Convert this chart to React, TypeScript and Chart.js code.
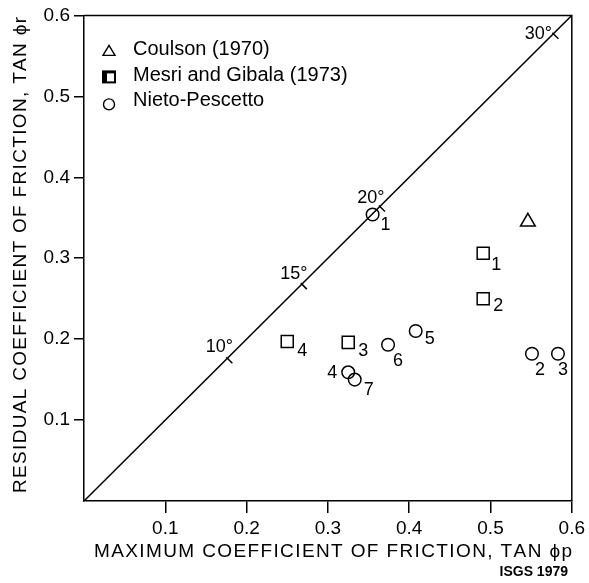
import React, { useEffect, useRef } from 'react';
import { Chart, registerables } from 'chart.js';

Chart.register(...registerables);

// ---- data ----
const coulsonX = [0.546];
const coulsonY = [0.345];

const mesriX = [0.491, 0.491, 0.325, 0.25];
const mesriY = [0.306, 0.25, 0.196, 0.197];
const mesriLabels = ['1', '2', '3', '4'];

const nietoX = [0.355, 0.551, 0.583, 0.325, 0.408, 0.374, 0.333];
const nietoY = [0.354, 0.182, 0.182, 0.159, 0.21, 0.193, 0.15];
const nietoLabels = ['1', '2', '3', '4', '5', '6', '7'];

const lineX = [0, 0.6];
const lineY = [0, 0.6];

const angleDegrees = [10, 15, 20, 30];
const angleLabels = ['10°', '15°', '20°', '30°'];

const xTickValues = [0.1, 0.2, 0.3, 0.4, 0.5, 0.6];
const xTickLabels = ['0.1', '0.2', '0.3', '0.4', '0.5', '0.6'];
const yTickValues = [0.1, 0.2, 0.3, 0.4, 0.5, 0.6];
const yTickLabels = ['0.1', '0.2', '0.3', '0.4', '0.5', '0.6'];

const legendLabels = ['Coulson (1970)', 'Mesri and Gibala (1973)', 'Nieto-Pescetto'];
const xTitle = 'MAXIMUM COEFFICIENT OF FRICTION, TAN ϕp';
const yTitle = 'RESIDUAL COEFFICIENT OF FRICTION, TAN ϕr';
const credit = 'ISGS 1979';

// ---- styles ----
const FONT = "'Liberation Sans', Arial, Helvetica, sans-serif";
const mesriOffsets = [[13, 12], [15, 7], [15, 9], [15, 9]];
const nietoOffsets = [[13, 11], [8, 16], [5, 16], [-16, 1], [14, 8], [10, 16], [14, 10]];
const angleOffsets = [[-8, -11], [-8, -10], [-9, -8], [-15, 0]];

function drawSpaced(ctx: CanvasRenderingContext2D, text: string, cx: number, cy: number, width: number) {
  const chars = Array.from(text);
  const widths = chars.map((c) => ctx.measureText(c).width);
  const natural = widths.reduce((a, b) => a + b, 0);
  const gap = chars.length > 1 ? (width - natural) / (chars.length - 1) : 0;
  let x = cx - width / 2;
  ctx.textAlign = 'left';
  ctx.textBaseline = 'middle';
  chars.forEach((c, i) => {
    ctx.fillText(c, x, cy);
    x += widths[i] + gap;
  });
}

const overlay = {
  id: 'overlay',
  afterDatasetsDraw(chart: any) {
    const { ctx, chartArea: a, scales } = chart;
    const xs = scales.x;
    const ys = scales.y;
    ctx.save();
    ctx.strokeStyle = '#000';
    ctx.fillStyle = '#000';
    ctx.lineWidth = 1.5;
    // top and right frame
    ctx.beginPath();
    ctx.moveTo(a.left, a.top);
    ctx.lineTo(a.right, a.top);
    ctx.lineTo(a.right, a.bottom);
    ctx.stroke();

    // angle marks on diagonal
    ctx.font = `18px ${FONT}`;
    ctx.textAlign = 'center';
    ctx.textBaseline = 'middle';
    angleDegrees.forEach((deg, i) => {
      const v = Math.tan((deg * Math.PI) / 180);
      const px = xs.getPixelForValue(v);
      const py = ys.getPixelForValue(v);
      ctx.beginPath();
      ctx.moveTo(px - 1, py - 1);
      ctx.lineTo(px + 5, py + 5);
      ctx.stroke();
      ctx.fillText(angleLabels[i], px + angleOffsets[i][0], py + angleOffsets[i][1]);
    });

    // point labels
    mesriLabels.forEach((t, i) => {
      ctx.fillText(t, xs.getPixelForValue(mesriX[i]) + mesriOffsets[i][0], ys.getPixelForValue(mesriY[i]) + mesriOffsets[i][1]);
    });
    nietoLabels.forEach((t, i) => {
      ctx.fillText(t, xs.getPixelForValue(nietoX[i]) + nietoOffsets[i][0], ys.getPixelForValue(nietoY[i]) + nietoOffsets[i][1]);
    });

    // legend
    const lx = a.left + 25;
    const ty = [a.top + 34, a.top + 60, a.top + 85];
    ctx.lineWidth = 1.4;
    // triangle
    ctx.beginPath();
    ctx.moveTo(lx, ty[0] - 4);
    ctx.lineTo(lx + 6, ty[0] + 6);
    ctx.lineTo(lx - 6, ty[0] + 6);
    ctx.closePath();
    ctx.stroke();
    // bold square
    ctx.fillRect(lx - 7, ty[1] - 5, 14, 13);
    ctx.fillStyle = '#fff';
    ctx.fillRect(lx - 2, ty[1] - 2, 7, 8);
    ctx.fillStyle = '#000';
    // circle
    ctx.beginPath();
    ctx.arc(lx, ty[2] + 4, 5.5, 0, Math.PI * 2);
    ctx.stroke();
    ctx.font = `20px ${FONT}`;
    ctx.textAlign = 'left';
    ctx.textBaseline = 'middle';
    legendLabels.forEach((t, i) => ctx.fillText(t, lx + 24, ty[i]));

    // axis titles
    ctx.font = `19px ${FONT}`;
    drawSpaced(ctx, xTitle, 333, 552, 478);
    ctx.save();
    ctx.translate(21, 255);
    ctx.rotate(-Math.PI / 2);
    drawSpaced(ctx, yTitle, 0, 0, 476);
    ctx.restore();

    ctx.font = `bold 14px ${FONT}`;
    ctx.textAlign = 'right';
    ctx.textBaseline = 'middle';
    ctx.fillText(credit, 568, 572);
    ctx.restore();
  },
};

export default function App() {
  const ref = useRef<HTMLCanvasElement | null>(null);

  useEffect(() => {
    if (!ref.current) return;
    const tickFont = { family: FONT, size: 19 };
    const chart = new Chart(ref.current, {
      type: 'scatter',
      data: {
        datasets: [
          {
            label: 'diagonal',
            data: lineX.map((v, i) => ({ x: v, y: lineY[i] })),
            showLine: true,
            borderColor: '#000',
            borderWidth: 1.5,
            pointRadius: 0,
            fill: false,
          },
          {
            label: legendLabels[0],
            data: coulsonX.map((v, i) => ({ x: v, y: coulsonY[i] })),
            pointStyle: 'triangle',
            pointRadius: 8.5,
            borderColor: '#000',
            borderWidth: 1.5,
            backgroundColor: 'transparent',
          },
          {
            label: legendLabels[1],
            data: mesriX.map((v, i) => ({ x: v, y: mesriY[i] })),
            pointStyle: 'rect',
            pointRadius: 8.5,
            borderColor: '#000',
            borderWidth: 1.5,
            backgroundColor: 'transparent',
          },
          {
            label: legendLabels[2],
            data: nietoX.map((v, i) => ({ x: v, y: nietoY[i] })),
            pointStyle: 'circle',
            pointRadius: 6.3,
            borderColor: '#000',
            borderWidth: 1.5,
            backgroundColor: 'transparent',
          },
        ],
      },
      options: {
        responsive: false,
        animation: false,
        layout: { padding: { left: 0, top: 13, right: 17, bottom: 0 } },
        plugins: { legend: { display: false }, tooltip: { enabled: false } },
        scales: {
          x: {
            type: 'linear',
            min: 0,
            max: 0.6,
            afterBuildTicks: (s: any) => {
              s.ticks = xTickValues.map((v) => ({ value: v }));
            },
            afterFit: (s: any) => {
              s.height = 82;
            },
            ticks: {
              autoSkip: false,
              maxRotation: 0,
              color: '#000',
              font: tickFont,
              padding: 4,
              callback: (_v: any, i: number) => xTickLabels[i],
            },
            grid: { drawOnChartArea: false, drawTicks: true, tickLength: 12, color: '#000', lineWidth: 1.5 },
            border: { display: true, color: '#000', width: 1.5 },
          },
          y: {
            type: 'linear',
            min: 0,
            max: 0.6,
            afterBuildTicks: (s: any) => {
              s.ticks = yTickValues.map((v) => ({ value: v }));
            },
            afterFit: (s: any) => {
              s.width = 84;
            },
            ticks: {
              autoSkip: false,
              color: '#000',
              font: tickFont,
              padding: 4,
              callback: (_v: any, i: number) => yTickLabels[i],
            },
            grid: { drawOnChartArea: false, drawTicks: true, tickLength: 10, color: '#000', lineWidth: 1.5 },
            border: { display: true, color: '#000', width: 1.5 },
          },
        },
      },
      plugins: [overlay],
    } as any);
    return () => chart.destroy();
  }, []);

  return (
    <div style={{ position: 'absolute', left: 0, top: 0, width: 589, height: 583, background: '#fff' }}>
      <canvas ref={ref} width={589} height={583} style={{ width: 589, height: 583, display: 'block' }} />
    </div>
  );
}
